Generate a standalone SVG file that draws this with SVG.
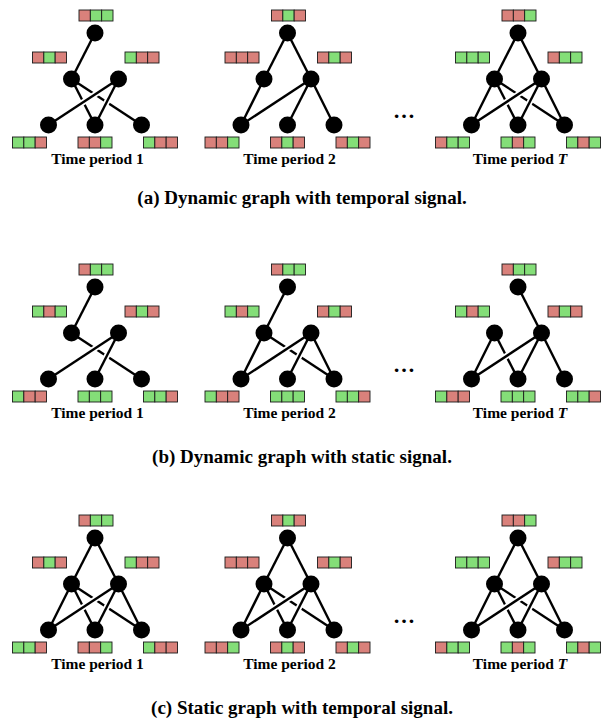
<svg xmlns="http://www.w3.org/2000/svg" width="605" height="719" viewBox="0 0 605 719">
<style>
.e{stroke:#000;stroke-width:2.4;fill:none}
.h{stroke:#fff;stroke-width:6;fill:none}
.n{fill:#000}
.r{fill:#d9817b;stroke:#1a1a1a;stroke-width:0.9}
.g{fill:#84de78;stroke:#1a1a1a;stroke-width:0.9}
.lbl{font-family:"Liberation Serif",serif;font-weight:bold;font-size:15.5px;text-anchor:middle;fill:#000}
.cap{font-family:"Liberation Serif",serif;font-weight:bold;font-size:19px;text-anchor:middle;fill:#000}
.dots{font-family:"Liberation Serif",serif;font-weight:bold;font-size:22px;text-anchor:middle;fill:#000}
</style>
<defs>
<g id="RGG"><rect class="r" x="0" y="0" width="11.33" height="11"/><rect class="g" x="11.33" y="0" width="11.33" height="11"/><rect class="g" x="22.67" y="0" width="11.33" height="11"/></g>
<g id="RGR"><rect class="r" x="0" y="0" width="11.33" height="11"/><rect class="g" x="11.33" y="0" width="11.33" height="11"/><rect class="r" x="22.67" y="0" width="11.33" height="11"/></g>
<g id="GRR"><rect class="g" x="0" y="0" width="11.33" height="11"/><rect class="r" x="11.33" y="0" width="11.33" height="11"/><rect class="r" x="22.67" y="0" width="11.33" height="11"/></g>
<g id="GGR"><rect class="g" x="0" y="0" width="11.33" height="11"/><rect class="g" x="11.33" y="0" width="11.33" height="11"/><rect class="r" x="22.67" y="0" width="11.33" height="11"/></g>
<g id="RRG"><rect class="r" x="0" y="0" width="11.33" height="11"/><rect class="r" x="11.33" y="0" width="11.33" height="11"/><rect class="g" x="22.67" y="0" width="11.33" height="11"/></g>
<g id="RRR"><rect class="r" x="0" y="0" width="11.33" height="11"/><rect class="r" x="11.33" y="0" width="11.33" height="11"/><rect class="r" x="22.67" y="0" width="11.33" height="11"/></g>
<g id="GGG"><rect class="g" x="0" y="0" width="11.33" height="11"/><rect class="g" x="11.33" y="0" width="11.33" height="11"/><rect class="g" x="22.67" y="0" width="11.33" height="11"/></g>
<g id="GRG"><rect class="g" x="0" y="0" width="11.33" height="11"/><rect class="r" x="11.33" y="0" width="11.33" height="11"/><rect class="g" x="22.67" y="0" width="11.33" height="11"/></g>
</defs>
<rect x="0" y="0" width="605" height="719" fill="#fff"/>

<!-- Row (a) -->
<g id="a1" transform="translate(95,0)">
<g id="a1-edges">
<line class="e" x1="0" y1="33" x2="-23.5" y2="79"/>
<line class="e" x1="-23.5" y1="79" x2="0" y2="125"/>
<line class="e" x1="-23.5" y1="79" x2="46.5" y2="125"/>
<line class="h" x1="14.3" y1="85" x2="-37.3" y2="119"/>
<line class="h" x1="18.5" y1="88.8" x2="5" y2="115.2"/>
<line class="e" x1="23.5" y1="79" x2="-46.5" y2="125"/>
<line class="e" x1="23.5" y1="79" x2="0" y2="125"/>
</g>
<g id="a1-T"><circle class="n" cx="0" cy="33" r="8.5"/><use href="#RGG" x="-16" y="10"/></g>
<g id="a1-L"><circle class="n" cx="-23.5" cy="79" r="8.5"/><use href="#RGR" x="-62.5" y="52"/></g>
<g id="a1-R"><circle class="n" cx="23.5" cy="79" r="8.5"/><use href="#GRR" x="30" y="52"/></g>
<g id="a1-A"><circle class="n" cx="-46.5" cy="125" r="8.5"/><use href="#GGR" x="-82.5" y="137"/></g>
<g id="a1-B"><circle class="n" cx="0" cy="125" r="8.5"/><use href="#RRG" x="-17" y="137"/></g>
<g id="a1-C"><circle class="n" cx="46.5" cy="125" r="8.5"/><use href="#GRR" x="48.5" y="137"/></g>
<text class="lbl" x="2.5" y="164">Time period 1</text>
</g>

<g id="a2" transform="translate(287.5,0)">
<g id="a2-edges">
<line class="e" x1="0" y1="33" x2="-23.5" y2="79"/>
<line class="e" x1="0" y1="33" x2="23.5" y2="79"/>
<line class="e" x1="-23.5" y1="79" x2="-46.5" y2="125"/>
<line class="e" x1="23.5" y1="79" x2="-46.5" y2="125"/>
<line class="e" x1="23.5" y1="79" x2="0" y2="125"/>
<line class="e" x1="23.5" y1="79" x2="46.5" y2="125"/>
</g>
<g id="a2-T"><circle class="n" cx="0" cy="33" r="8.5"/><use href="#RGR" x="-16" y="10"/></g>
<g id="a2-L"><circle class="n" cx="-23.5" cy="79" r="8.5"/><use href="#RRR" x="-62.5" y="52"/></g>
<g id="a2-R"><circle class="n" cx="23.5" cy="79" r="8.5"/><use href="#RGR" x="30" y="52"/></g>
<g id="a2-A"><circle class="n" cx="-46.5" cy="125" r="8.5"/><use href="#RRG" x="-82.5" y="137"/></g>
<g id="a2-B"><circle class="n" cx="0" cy="125" r="8.5"/><use href="#RGR" x="-17" y="137"/></g>
<g id="a2-C"><circle class="n" cx="46.5" cy="125" r="8.5"/><use href="#RGR" x="48.5" y="137"/></g>
<text class="lbl" x="2" y="164">Time period 2</text>
</g>

<text class="dots" x="404" y="118">…</text>

<g id="a3" transform="translate(518,0)">
<g id="a3-edges">
<line class="e" x1="0" y1="33" x2="-23.5" y2="79"/>
<line class="e" x1="0" y1="33" x2="23.5" y2="79"/>
<line class="e" x1="-23.5" y1="79" x2="-46.5" y2="125"/>
<line class="e" x1="-23.5" y1="79" x2="0" y2="125"/>
<line class="e" x1="-23.5" y1="79" x2="46.5" y2="125"/>
<line class="h" x1="14.3" y1="85" x2="-37.3" y2="119"/>
<line class="h" x1="18.5" y1="88.8" x2="5" y2="115.2"/>
<line class="e" x1="23.5" y1="79" x2="-46.5" y2="125"/>
<line class="e" x1="23.5" y1="79" x2="0" y2="125"/>
<line class="e" x1="23.5" y1="79" x2="46.5" y2="125"/>
</g>
<g id="a3-T"><circle class="n" cx="0" cy="33" r="8.5"/><use href="#RRG" x="-16" y="10"/></g>
<g id="a3-L"><circle class="n" cx="-23.5" cy="79" r="8.5"/><use href="#GGG" x="-62.5" y="52"/></g>
<g id="a3-R"><circle class="n" cx="23.5" cy="79" r="8.5"/><use href="#RGG" x="30" y="52"/></g>
<g id="a3-A"><circle class="n" cx="-46.5" cy="125" r="8.5"/><use href="#RGG" x="-82.5" y="137"/></g>
<g id="a3-B"><circle class="n" cx="0" cy="125" r="8.5"/><use href="#GRG" x="-17" y="137"/></g>
<g id="a3-C"><circle class="n" cx="46.5" cy="125" r="8.5"/><use href="#GRG" x="48.5" y="137"/></g>
<text class="lbl" x="2" y="164">Time period <tspan font-style="italic">T</tspan></text>
</g>

<text class="cap" x="302" y="204">(a) Dynamic graph with temporal signal.</text>

<!-- Row (b) -->
<g id="b1" transform="translate(95,254)">
<g id="b1-edges">
<line class="e" x1="0" y1="33" x2="-23.5" y2="79"/>
<line class="e" x1="-23.5" y1="79" x2="46.5" y2="125"/>
<line class="h" x1="14.3" y1="85" x2="-37.3" y2="119"/>
<line class="h" x1="18.5" y1="88.8" x2="5" y2="115.2"/>
<line class="e" x1="23.5" y1="79" x2="-46.5" y2="125"/>
<line class="e" x1="23.5" y1="79" x2="0" y2="125"/>
</g>
<g id="b1-T"><circle class="n" cx="0" cy="33" r="8.5"/><use href="#RGG" x="-16" y="10"/></g>
<g id="b1-L"><circle class="n" cx="-23.5" cy="79" r="8.5"/><use href="#GRG" x="-62.5" y="52"/></g>
<g id="b1-R"><circle class="n" cx="23.5" cy="79" r="8.5"/><use href="#RGR" x="30" y="52"/></g>
<g id="b1-A"><circle class="n" cx="-46.5" cy="125" r="8.5"/><use href="#GRR" x="-82.5" y="137"/></g>
<g id="b1-B"><circle class="n" cx="0" cy="125" r="8.5"/><use href="#GGG" x="-17" y="137"/></g>
<g id="b1-C"><circle class="n" cx="46.5" cy="125" r="8.5"/><use href="#GGR" x="48.5" y="137"/></g>
<text class="lbl" x="2.5" y="164">Time period 1</text>
</g>

<g id="b2" transform="translate(287.5,254)">
<g id="b2-edges">
<line class="e" x1="0" y1="33" x2="-23.5" y2="79"/>
<line class="e" x1="-23.5" y1="79" x2="-46.5" y2="125"/>
<line class="e" x1="-23.5" y1="79" x2="46.5" y2="125"/>
<line class="h" x1="14.3" y1="85" x2="-37.3" y2="119"/>
<line class="h" x1="18.5" y1="88.8" x2="5" y2="115.2"/>
<line class="e" x1="23.5" y1="79" x2="-46.5" y2="125"/>
<line class="e" x1="23.5" y1="79" x2="0" y2="125"/>
<line class="e" x1="23.5" y1="79" x2="46.5" y2="125"/>
</g>
<g id="b2-T"><circle class="n" cx="0" cy="33" r="8.5"/><use href="#RGG" x="-16" y="10"/></g>
<g id="b2-L"><circle class="n" cx="-23.5" cy="79" r="8.5"/><use href="#GRG" x="-62.5" y="52"/></g>
<g id="b2-R"><circle class="n" cx="23.5" cy="79" r="8.5"/><use href="#RGR" x="30" y="52"/></g>
<g id="b2-A"><circle class="n" cx="-46.5" cy="125" r="8.5"/><use href="#GRR" x="-82.5" y="137"/></g>
<g id="b2-B"><circle class="n" cx="0" cy="125" r="8.5"/><use href="#GGG" x="-17" y="137"/></g>
<g id="b2-C"><circle class="n" cx="46.5" cy="125" r="8.5"/><use href="#GGR" x="48.5" y="137"/></g>
<text class="lbl" x="2" y="164">Time period 2</text>
</g>

<text class="dots" x="404" y="372">…</text>

<g id="b3" transform="translate(518,254)">
<g id="b3-edges">
<line class="e" x1="0" y1="33" x2="23.5" y2="79"/>
<line class="e" x1="-23.5" y1="79" x2="-46.5" y2="125"/>
<line class="e" x1="-23.5" y1="79" x2="0" y2="125"/>
<line class="h" x1="14.3" y1="85" x2="-37.3" y2="119"/>
<line class="e" x1="23.5" y1="79" x2="-46.5" y2="125"/>
<line class="e" x1="23.5" y1="79" x2="0" y2="125"/>
<line class="e" x1="23.5" y1="79" x2="46.5" y2="125"/>
</g>
<g id="b3-T"><circle class="n" cx="0" cy="33" r="8.5"/><use href="#RGG" x="-16" y="10"/></g>
<g id="b3-L"><circle class="n" cx="-23.5" cy="79" r="8.5"/><use href="#GRG" x="-62.5" y="52"/></g>
<g id="b3-R"><circle class="n" cx="23.5" cy="79" r="8.5"/><use href="#RGR" x="30" y="52"/></g>
<g id="b3-A"><circle class="n" cx="-46.5" cy="125" r="8.5"/><use href="#GRR" x="-82.5" y="137"/></g>
<g id="b3-B"><circle class="n" cx="0" cy="125" r="8.5"/><use href="#GGG" x="-17" y="137"/></g>
<g id="b3-C"><circle class="n" cx="46.5" cy="125" r="8.5"/><use href="#GGR" x="48.5" y="137"/></g>
<text class="lbl" x="2" y="164">Time period <tspan font-style="italic">T</tspan></text>
</g>

<text class="cap" x="302" y="463">(b) Dynamic graph with static signal.</text>

<!-- Row (c) -->
<g id="c1" transform="translate(95,505)">
<g id="c1-edges">
<line class="e" x1="0" y1="33" x2="-23.5" y2="79"/>
<line class="e" x1="0" y1="33" x2="23.5" y2="79"/>
<line class="e" x1="-23.5" y1="79" x2="-46.5" y2="125"/>
<line class="e" x1="-23.5" y1="79" x2="0" y2="125"/>
<line class="e" x1="-23.5" y1="79" x2="46.5" y2="125"/>
<line class="h" x1="14.3" y1="85" x2="-37.3" y2="119"/>
<line class="h" x1="18.5" y1="88.8" x2="5" y2="115.2"/>
<line class="e" x1="23.5" y1="79" x2="-46.5" y2="125"/>
<line class="e" x1="23.5" y1="79" x2="0" y2="125"/>
<line class="e" x1="23.5" y1="79" x2="46.5" y2="125"/>
</g>
<g id="c1-T"><circle class="n" cx="0" cy="33" r="8.5"/><use href="#RGG" x="-16" y="10"/></g>
<g id="c1-L"><circle class="n" cx="-23.5" cy="79" r="8.5"/><use href="#RGR" x="-62.5" y="52"/></g>
<g id="c1-R"><circle class="n" cx="23.5" cy="79" r="8.5"/><use href="#GRR" x="30" y="52"/></g>
<g id="c1-A"><circle class="n" cx="-46.5" cy="125" r="8.5"/><use href="#GGR" x="-82.5" y="137"/></g>
<g id="c1-B"><circle class="n" cx="0" cy="125" r="8.5"/><use href="#RRG" x="-17" y="137"/></g>
<g id="c1-C"><circle class="n" cx="46.5" cy="125" r="8.5"/><use href="#GRR" x="48.5" y="137"/></g>
<text class="lbl" x="2.5" y="164">Time period 1</text>
</g>

<g id="c2" transform="translate(287.5,505)">
<g id="c2-edges">
<line class="e" x1="0" y1="33" x2="-23.5" y2="79"/>
<line class="e" x1="0" y1="33" x2="23.5" y2="79"/>
<line class="e" x1="-23.5" y1="79" x2="-46.5" y2="125"/>
<line class="e" x1="-23.5" y1="79" x2="0" y2="125"/>
<line class="e" x1="-23.5" y1="79" x2="46.5" y2="125"/>
<line class="h" x1="14.3" y1="85" x2="-37.3" y2="119"/>
<line class="h" x1="18.5" y1="88.8" x2="5" y2="115.2"/>
<line class="e" x1="23.5" y1="79" x2="-46.5" y2="125"/>
<line class="e" x1="23.5" y1="79" x2="0" y2="125"/>
<line class="e" x1="23.5" y1="79" x2="46.5" y2="125"/>
</g>
<g id="c2-T"><circle class="n" cx="0" cy="33" r="8.5"/><use href="#RGR" x="-16" y="10"/></g>
<g id="c2-L"><circle class="n" cx="-23.5" cy="79" r="8.5"/><use href="#RRR" x="-62.5" y="52"/></g>
<g id="c2-R"><circle class="n" cx="23.5" cy="79" r="8.5"/><use href="#RGR" x="30" y="52"/></g>
<g id="c2-A"><circle class="n" cx="-46.5" cy="125" r="8.5"/><use href="#RRG" x="-82.5" y="137"/></g>
<g id="c2-B"><circle class="n" cx="0" cy="125" r="8.5"/><use href="#RGR" x="-17" y="137"/></g>
<g id="c2-C"><circle class="n" cx="46.5" cy="125" r="8.5"/><use href="#RGR" x="48.5" y="137"/></g>
<text class="lbl" x="2" y="164">Time period 2</text>
</g>

<text class="dots" x="404" y="623">…</text>

<g id="c3" transform="translate(518,505)">
<g id="c3-edges">
<line class="e" x1="0" y1="33" x2="-23.5" y2="79"/>
<line class="e" x1="0" y1="33" x2="23.5" y2="79"/>
<line class="e" x1="-23.5" y1="79" x2="-46.5" y2="125"/>
<line class="e" x1="-23.5" y1="79" x2="0" y2="125"/>
<line class="e" x1="-23.5" y1="79" x2="46.5" y2="125"/>
<line class="h" x1="14.3" y1="85" x2="-37.3" y2="119"/>
<line class="h" x1="18.5" y1="88.8" x2="5" y2="115.2"/>
<line class="e" x1="23.5" y1="79" x2="-46.5" y2="125"/>
<line class="e" x1="23.5" y1="79" x2="0" y2="125"/>
<line class="e" x1="23.5" y1="79" x2="46.5" y2="125"/>
</g>
<g id="c3-T"><circle class="n" cx="0" cy="33" r="8.5"/><use href="#RRG" x="-16" y="10"/></g>
<g id="c3-L"><circle class="n" cx="-23.5" cy="79" r="8.5"/><use href="#GGG" x="-62.5" y="52"/></g>
<g id="c3-R"><circle class="n" cx="23.5" cy="79" r="8.5"/><use href="#RGG" x="30" y="52"/></g>
<g id="c3-A"><circle class="n" cx="-46.5" cy="125" r="8.5"/><use href="#RGG" x="-82.5" y="137"/></g>
<g id="c3-B"><circle class="n" cx="0" cy="125" r="8.5"/><use href="#GRG" x="-17" y="137"/></g>
<g id="c3-C"><circle class="n" cx="46.5" cy="125" r="8.5"/><use href="#GRG" x="48.5" y="137"/></g>
<text class="lbl" x="2" y="164">Time period <tspan font-style="italic">T</tspan></text>
</g>

<text class="cap" x="302" y="714">(c) Static graph with temporal signal.</text>
</svg>
